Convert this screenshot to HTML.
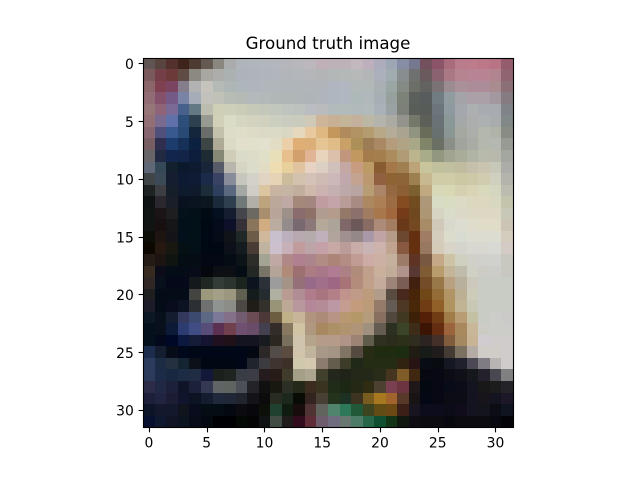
<!DOCTYPE html>
<html>
<head>
<meta charset="utf-8">
<title>Ground truth image</title>
<style>
  html, body { margin: 0; padding: 0; background: #ffffff; }
  svg { display: block; }
  text { font-family: "DejaVu Sans", "Liberation Sans", sans-serif; fill: #000000; }
</style>
</head>
<body>
<svg id="chart" xmlns="http://www.w3.org/2000/svg" width="640" height="480" viewBox="0 0 640 480">
  <rect x="0" y="0" width="640" height="480" fill="#ffffff"/>
  <g id="cells"></g>
  <g id="ticks"></g>
  <rect x="143.5" y="58.5" width="370" height="369" fill="none" stroke="#000000" stroke-width="1.11"/>
  <text x="328" y="49" font-size="16.67" text-anchor="middle">Ground truth image</text>
</svg>
<script>
const xTicks = [0, 5, 10, 15, 20, 25, 30];
const yTicks = [0, 5, 10, 15, 20, 25, 30];
const pixelRows = [
"615553 584540 54302c 3e241b 4d3a30 645a52 8a8680 a9abac b0b5bc b1b6bd b2b6bd b3b6bd b4b6bc b8b8bc bdb6bd bfb0b8 bdb2b8 bdb2b8 c2b8be bdb0bc adacbc 9ca6b4 858ea4 767890 74505e 8c5468 a86c7c b87c8c bc7c8c bc7888 b87484 945c6c",
"7a5a5a 743f49 6d3a3a 5e4c45 8b8982 a8a7a2 adadab aab1b0 adb3ba afb4bb b0b5bc b1b6bc b2b6bb b3b6ba b5b6ba b2b4b5 b3b7b8 b4b8b6 b6b9b8 b2b6b6 acb0bc a0acb0 888e90 6f7070 6a5a5e 8a6270 a87884 b58490 b68494 b88494 b28490 906470",
"8b6569 7f4152 7b4460 857d8c b3b2b3 c6c3bd b4bab5 adb6b4 aeb5bb afb5bc b0b6bc b1b6bb b0b5b9 b0b5b9 b0b5ba b0b5bb b0b6c0 b0b7c0 b0b8b8 b0b8b8 a8b0b4 9aa6a4 848a84 6c6e68 626260 7a7274 9a8c90 aa9098 ac8c98 ac8c98 a88c90 8c7078",
"926c75 84506a 745a86 7983a5 a7adb8 c2c1bb c0c2b8 b7bdb4 b5bab4 b4babb b3b8b9 b1b7b6 b0b6b6 b0b6b8 afb4b9 b0b5bc b0b6c0 b0b7c0 adb8b8 b0b8bc a6b0b4 96a09c 7c8278 5c605c 585c5c 707c80 909ca0 a4a4a8 aca0a8 aca0a8 a498a0 847c80",
"977677 8f6478 7a6b96 47618c 637a85 bcbcaf cfcfb8 cdcfb8 cbccb8 c7c9b8 c3c8ba c1c7bc bfc5be bdc2bf b9bdc2 babbbc b2bbbb b2baba b0baba b2bbbc a8b2b8 9aa2a4 7c8078 5a5e58 585c58 6c747c 8e9aa0 a4a8ac acb0b0 a8acb0 a8acb0 808488",
"926f75 7b6a90 6070a8 2e4e7a 2d4050 969a90 d2d1b8 dbdcc6 d5d5c2 d3d3c0 d0d2bf cbcfc0 c9ccbf c9cbbc d0c9b8 cfb59a c8b094 c4b498 c4b09c bcb6a4 b4b4ac ababa4 94948c 747868 5c6058 6a7278 8a9898 a4a8a8 acaeae acb0b0 a8acac 808888",
"876570 50507c 38598f 284a74 14263c 6a6c6a c3c1ac dddcc8 dfdcc7 dddbc6 dcdac6 dadac6 d9d7c2 e6d8bc e8c9a0 deb880 c4985c b08a5c b29464 b49c70 b8a888 b4ac98 a8a490 909480 686c58 687070 8a9694 a4a8a0 acaeac b4b8ac b0b4a8 888c84",
"765e62 2f2e4e 1d3c6e 173058 0c2040 3d4444 aeaa96 dbdac4 e2e0cc e1e0cb e3e0cd e3dcc4 eacfa8 dfae76 dcae78 e6c594 e0bc88 c8a068 ac9058 9c7c54 aa8864 b49c7c b0a484 a8a888 808468 6a7064 8a9088 a0a49c a8aca4 b4b8ac b4b8b0 989a94",
"686569 212a42 12254c 122448 0d1e3c 1d2a34 868876 cfccb8 dadbc8 dcdcc8 e0dfc8 e8dfb8 e6bf8c d2a06c e0b494 e8d4bc dcc0ac c0967c c09860 a47c4c a47e4c ac8c5c b09c74 bcb48c a8ac88 929880 a0a490 a8ac98 b0b4a4 b8baac b8b8ac a4a6a0",
"606878 344858 12202e 0a1a2c 0d1a30 182438 585c68 b8b6ac d6d5c3 dcdccb e2dcc4 efdcb0 e8d09c e0c4a0 e8d2c4 dccfc4 d0c0bc c4a8a4 c89c80 bc9c64 885c30 a47848 a08050 bca478 c8c49c c0c09c c0c0a0 c0bca0 c4c0ac c8c4b0 c8c8b8 acaca8",
"404548 3c4a58 141e30 0e1a34 0f1a34 1a2a48 3a4264 888c9a c6c6bc d4d2c8 e2d4c2 e6d2b4 ccbc9c d3c2ac d4c2b8 cfbab4 ccb8b8 c0a8ac c4a490 bc9870 906040 8e6434 8c6438 9c8050 c8b890 d0cca8 d0cca8 ccc8a4 ccc8a8 d0ccb0 d0d0c0 b4b4ac",
"1e2222 3c3e44 161e2a 0e1a2e 101a2c 1c2c38 2e3f5e 5a6880 a4a8a4 d0cdc6 dcc6a0 c8b4a0 c6b4a4 c2ae9c d0b8aa ccb2b0 c4b0b0 bca8a8 b8a4a0 b89c74 ac8468 946840 8c6034 7c6030 c0a880 d8d8b8 d8d8b4 d4d0b0 d8d4b4 d8d8bc d4d6c0 bcbcb0",
"0e1212 2a282e 1a1e28 0a1220 0a1420 0c161e 1a2a3a 2e4050 707878 b2afa8 bea47c bca89a c0a8a4 a4887a a48680 c09ca0 c4a4a8 b89c98 a88c84 ac8860 ac8054 9c6c44 844c20 704c20 ac9878 d8dcc4 d8dcc0 dcdac4 dcd8c0 dcd8c0 d8d8c0 c4c4ac",
"101412 1a1416 1e1e20 04101a 041018 020a14 041020 141e30 44464c 6c6a60 a88e6c b8a498 9c9088 8a6c6e 8e7268 b09c90 b49c8c 947868 8c706c a07c60 a8784c a0683c 743c18 704820 ac9674 d8d4c4 d8dcc8 dcd8c8 dcd8c4 dcd8c4 dcd8c4 c8c8b8",
"101412 181010 161618 02101a 021018 000814 040c1c 0c1028 363038 8a745c d0ac80 baac9e 948c8c 786870 8c7878 b4a898 aca498 806868 6c5858 886c64 ac8c78 a47c60 683818 744820 a88c68 d0c8b8 d8d8cc dcdcd0 e0dccc e0dcc8 e0dcc8 ccc4b4",
"0e0e08 1e1410 141418 02101c 021018 000816 040c18 101418 202828 6c5c48 d0b89c c8c0cc bcb0bc b8a8b0 b4acac c0b0bc b0a49c a09090 948888 a898a8 c0a4a4 b49c88 6c4830 643010 a07c64 d4ccbc dcdccc d8dcd0 dcdcd0 dcdcd0 dcdcd0 d4ccbc",
"0c0800 241810 181810 041014 041018 000814 000814 0c1018 141c20 483c34 c0b4a0 ccc0cc c8b0b8 c09c9c bca4a8 c4a0a8 c8a8a4 bc9c98 c8aca8 c8b4b4 ccb4ac c0a490 885840 643010 987860 d4ccb8 d8d4c8 d4d4cc d8d8d0 d8d8d0 d8d8d4 d4ccc4",
"241c14 1c1410 101410 040c14 040c14 040814 040814 040c14 0c1418 2c2c28 a4a494 c0a8a4 b08888 b08090 ac848c b08c84 ac8478 b48c84 c09c94 ccaca4 ccb0a4 c4b09c 9c7c68 603424 785840 c4a888 ccc4a4 d0d0c0 d0d0c8 d0d0cc d0d0cc c8c8c0",
"382c20 0c0c18 040c18 040c18 080c18 04080c 0c1014 0c1014 040c14 242824 787468 b4a498 b08c78 9c7070 ac7c84 a87888 b07c94 ac8084 b08c7c c0a08c c8b09c c0ac98 b0948c 583830 805c34 b89c6c c4b498 c0bcac d0d0c4 ccccc4 ccccc8 c8c8c0",
"302824 08101c 040818 040818 141a1c 202824 343c38 2c3430 1c2420 0c1420 2c3038 9c9c9c a49488 957078 966a88 a0708a 9e6884 a87478 b48c7c c0a088 c4ac9c 9c8478 7a5e55 42200f 744c28 987848 b8a080 b8b09c ccc8bc c8ccc4 c8ccc4 c8ccc4",
"201f20 040c18 040c18 040c18 444440 9c987c a4a088 9c9880 606050 141c1c 242c30 b0b0a0 b89c94 b08c94 b07c8c a87480 b48088 c0948c c09c88 bc9c7c b09c88 584c40 48281c 482408 704818 946c38 b09464 bcb094 ccccb8 c8ccc4 c8ccc4 c8ccc4",
"1c1c28 040c18 080c1c 0c1424 2c3034 707070 909490 8c8c88 4c4844 201c18 34302c 989478 bca894 b8989c b48898 b48c98 bc98a4 c49c90 c49c7c bc9c78 947c68 645c54 4c3824 482808 703c14 906028 b09460 c0b494 c8c8b4 c8ccc4 c8ccc4 c8ccc4",
"0c1824 08101c 141c30 34385c 3c4a70 5c6884 7c7898 847088 745c70 6c4c54 4c3838 6c5c40 c0b088 c8b498 b09480 ac8c78 b89484 b89870 b49868 b49c7c 887060 50483c 403820 3c2008 542008 703c14 a07c48 b89c74 c4c0a4 c8ccc4 ccccc8 cccac8",
"04101c 08101c 0c1a38 2c3c70 404c84 584c78 5c3050 70404c 705070 684c68 444050 342c28 887860 d0c4a4 b09880 a88860 ac9068 b09470 b09478 a09080 645c50 2c3020 3c4428 3c2c18 3c1404 642c10 9c643c a8885c c8b898 ccccc4 ccccc8 ccccc8",
"04101c 04081c 000828 0c1840 141c38 141430 201020 201018 141420 141420 181c20 2c2820 78705c d0c4ac b4a48c b49c88 b49c88 b09488 9c8474 605c4c 303020 2c2c1c 2c3018 302c20 2c2420 443028 805c3c a48860 c8b494 d0ccd0 d0cccc d0cccc",
"1c2c4c 141e30 080c18 00081c 000818 000818 000818 000818 000818 040810 2c2828 544c48 5c4c40 d0c4ac c0b49c a89888 a49484 807464 544a40 282c14 202c10 202c10 1c2c10 201c14 181c18 201c1c 443c34 7c7060 b4aca4 d0ccc8 d0ccc8 d0cccc",
"2c3c5c 1c2c44 243040 142430 0c1018 000814 000814 000814 000818 20242c 3c3c40 403430 3c3028 d0c8ac d4c8b0 8c7c70 645c4c 3c3c28 202818 242c14 242c14 242c14 302410 281414 080c14 080c10 141820 20202c 4c4854 807c84 b8b4b4 d0cccc",
"2c3a5c 1c2c48 182840 1c2c44 202c44 141838 1c201c 202420 383c44 3c3c44 241c1c 281c18 403c2c a4a088 aca690 40402c 24281c 202418 242818 242818 282c18 443420 805c28 402810 080810 080814 0c0c14 101018 14181c 24202c 484850 808080",
"2c2c48 202844 1c2038 101428 1c2038 343850 606464 606460 4c5058 242428 101010 181810 2c3024 242818 3c2c20 383420 202c18 1c2814 242814 302c14 4c4030 784050 6c3440 201818 040810 080814 080c18 0c0c18 141420 181818 1c1c1c 242428",
"1c2038 202440 1c1c34 10142c 0c1424 141c30 20283c 202838 20242c 141418 0c0c0c 282c20 1c281c 080c04 342420 484034 24341c 1c3024 3c3420 785c20 a87820 a0642c 583828 181414 040814 080814 0c0c14 0c0c14 141420 18141c 141420 1c1828",
"0c1428 14182c 14182c 10141c 080c1c 040c14 040c14 040810 0c0c10 08080c 0c1008 204030 101c10 180c0c 503434 60645c 50846c 2c7858 205838 3c4420 604c14 6c4814 3c2018 181420 0c0c1c 0c0c1c 0c0c18 100c1c 141420 14141c 0c0c14 101420",
"081030 101830 101424 0c1420 080c18 040810 000004 000004 040804 040404 101414 404c44 201c1c 300c1c 602c38 6c5c6c 706c80 687870 4c7c68 286848 105030 143418 101810 100c14 0c0c10 0c0c10 080810 0c0c10 0c0c10 0c0c10 080810 040408"
];

const NS = "http://www.w3.org/2000/svg";
const plotLeft = 143.2, plotTop = 57.6, plotSize = 369.6;
const domainMin = -0.5, domainMax = 31.5;
function xScale(v) { return plotLeft + (v - domainMin) / (domainMax - domainMin) * plotSize; }
function yScale(v) { return plotTop + (v - domainMin) / (domainMax - domainMin) * plotSize; }

const cellsGroup = document.getElementById("cells");
pixelRows.forEach(function (row, r) {
  row.split(" ").forEach(function (hex, c) {
    const x0 = Math.round(xScale(c - 0.5));
    const x1 = Math.round(xScale(c + 0.5));
    const y0 = Math.round(yScale(r - 0.5));
    const y1 = Math.round(yScale(r + 0.5));
    const cell = document.createElementNS(NS, "rect");
    
    
    cell.setAttribute("x", x0);
    cell.setAttribute("y", y0);
    cell.setAttribute("width", x1 - x0);
    cell.setAttribute("height", y1 - y0);
    cell.setAttribute("fill", "#" + hex);
    cell.setAttribute("shape-rendering", "crispEdges");
    cellsGroup.appendChild(cell);
  });
});

const ticksGroup = document.getElementById("ticks");
const tickLen = 4.86;
const spineLeft = 143.5;
const spineBottom = 427.5;

xTicks.forEach(function (t) {
  const px = Math.round(xScale(t)) + 0.5;
  const mark = document.createElementNS(NS, "line");
  
  
  mark.setAttribute("x1", px);
  mark.setAttribute("x2", px);
  mark.setAttribute("y1", spineBottom);
  mark.setAttribute("y2", spineBottom + tickLen);
  mark.setAttribute("stroke", "#000000");
  mark.setAttribute("stroke-width", "1.11");
  ticksGroup.appendChild(mark);
  const label = document.createElementNS(NS, "text");
  
  
  label.setAttribute("x", xScale(t));
  label.setAttribute("y", 447.5);
  label.setAttribute("font-size", "13.89");
  label.setAttribute("text-anchor", "middle");
  label.textContent = String(t);
  ticksGroup.appendChild(label);
});

yTicks.forEach(function (t) {
  const py = Math.round(yScale(t)) + 0.5;
  const mark = document.createElementNS(NS, "line");
  
  
  mark.setAttribute("x1", spineLeft);
  mark.setAttribute("x2", spineLeft - tickLen);
  mark.setAttribute("y1", py);
  mark.setAttribute("y2", py);
  mark.setAttribute("stroke", "#000000");
  mark.setAttribute("stroke-width", "1.11");
  ticksGroup.appendChild(mark);
  const label = document.createElementNS(NS, "text");
  
  
  label.setAttribute("x", plotLeft - 9.4);
  label.setAttribute("y", yScale(t) + 5.8);
  label.setAttribute("font-size", "13.89");
  label.setAttribute("text-anchor", "end");
  label.textContent = String(t);
  ticksGroup.appendChild(label);
});
</script>
</body>
</html>
